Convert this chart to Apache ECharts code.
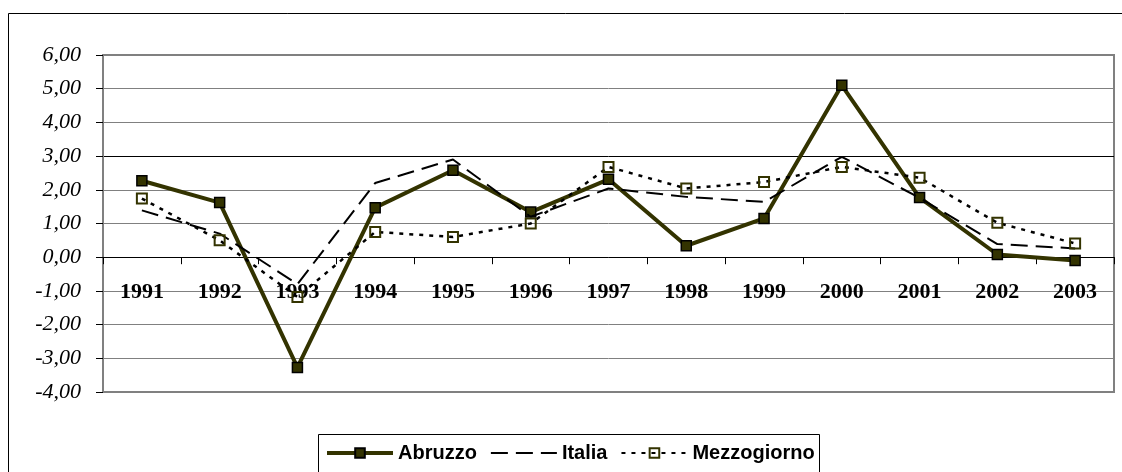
<!DOCTYPE html>
<html>
<head>
<meta charset="utf-8">
<script src="https://cdn.jsdelivr.net/npm/echarts@6/dist/echarts.min.js"></script>
<style>
html,body{margin:0;padding:0;background:#fff;}
#chart{width:1122px;height:472px;}
</style>
</head>
<body>
<div id="chart"></div>
<script>
const years = ['1991','1992','1993','1994','1995','1996','1997','1998','1999','2000','2001','2002','2003'];
const abruzzo = [2.27, 1.62, -3.27, 1.47, 2.58, 1.34, 2.31, 0.34, 1.15, 5.10, 1.77, 0.08, -0.10];
const italia = [1.39, 0.70, -0.80, 2.20, 2.90, 1.20, 2.04, 1.79, 1.64, 2.98, 1.76, 0.39, 0.26];
const mezzogiorno = [1.74, 0.50, -1.18, 0.75, 0.60, 1.00, 2.68, 2.04, 2.23, 2.68, 2.36, 1.02, 0.41];
const seriesNames = ['Abruzzo', 'Italia', 'Mezzogiorno'];
const yMin = -4, yMax = 6;

const gridTop = 55, gridBottom = 80, chartH = 472;
const gridH = chartH - gridTop - gridBottom;
// place the category axis on the zero line of the value axis
const zeroOffset = -gridH * (0 - yMin) / (yMax - yMin);

const chart = echarts.init(document.getElementById('chart'), null, {renderer: 'canvas'});
const gridColors = ['#808080','#808080','#808080','#808080','#808080','#808080','#808080','#000000','#808080','#808080','#808080'];

chart.setOption({
  animation: false,
  backgroundColor: '#ffffff',
  graphic: [
    {type: 'rect', shape: {x: 8.5, y: 13.5, width: 1200, height: 600}, style: {fill: 'none', stroke: '#000', lineWidth: 1}, z: -10},
    {type: 'rect', shape: {x: 318.5, y: 434.5, width: 501, height: 80}, style: {fill: 'none', stroke: '#000', lineWidth: 1}, z: -10}
  ],
  grid: {
    left: 103, top: gridTop, right: 8, bottom: gridBottom,
    show: true, borderColor: '#808080', borderWidth: 2, backgroundColor: 'transparent'
  },
  legend: {
    left: 325, top: 443, padding: 0,
    itemWidth: 66, itemHeight: 12, itemGap: 13,
    data: [
      {name: 'Abruzzo', lineStyle: {width: 4}},
      {name: 'Italia'},
      {name: 'Mezzogiorno'}
    ],
    textStyle: {fontFamily: 'Liberation Sans', fontWeight: 'bold', fontSize: 20, color: '#000'}
  },
  xAxis: {
    type: 'category',
    data: years,
    boundaryGap: true,
    position: 'bottom',
    offset: zeroOffset,
    axisLine: {onZero: false, lineStyle: {color: '#000', width: 1}},
    axisTick: {show: true, length: 7, inside: false, lineStyle: {color: '#000'}},
    axisLabel: {margin: 24, fontFamily: 'Liberation Serif', fontWeight: 'bold', fontSize: 22, color: '#000'},
    splitLine: {show: false}
  },
  yAxis: {
    type: 'value',
    min: yMin, max: yMax, interval: 1,
    axisLine: {show: true, lineStyle: {color: '#808080', width: 2}},
    axisTick: {show: true, length: 7, lineStyle: {color: '#000'}},
    axisLabel: {
      margin: 22, fontFamily: 'Liberation Serif', fontStyle: 'italic', fontSize: 22, color: '#000',
      formatter: v => v.toFixed(2).replace('.', ',')
    },
    splitLine: {show: true, lineStyle: {color: gridColors, width: 1}}
  },
  series: [
    {
      name: 'Abruzzo', type: 'line', data: abruzzo,
      symbol: 'rect', symbolSize: 10,
      lineStyle: {color: '#333300', width: 4},
      itemStyle: {color: '#333300', borderColor: '#000', borderWidth: 1.5},
      z: 2
    },
    {
      name: 'Italia', type: 'line', data: italia,
      symbol: 'rect', showSymbol: false, symbolSize: 0,
      lineStyle: {color: '#000', width: 2, type: [17, 8]},
      itemStyle: {color: 'rgba(0,0,0,0)', borderColor: 'rgba(0,0,0,0)', borderWidth: 0},
      z: 3
    },
    {
      name: 'Mezzogiorno', type: 'line', data: mezzogiorno,
      symbol: 'rect', symbolSize: 10,
      lineStyle: {color: '#000', width: 2.5, type: [4, 6]},
      itemStyle: {color: 'rgba(255,255,255,0)', borderColor: '#333300', borderWidth: 2},
      z: 4
    }
  ]
});
</script>
</body>
</html>
